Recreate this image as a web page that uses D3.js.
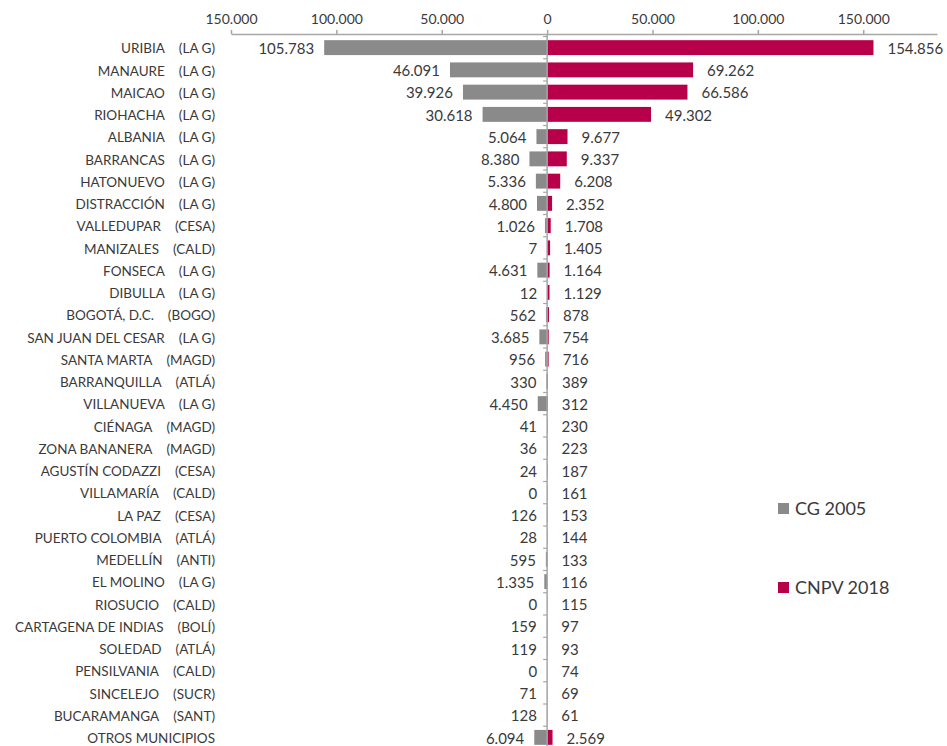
<!DOCTYPE html>
<html>
<head>
<meta charset="utf-8">
<script src="https://cdn.jsdelivr.net/npm/d3@7"></script>
<style>
  body { margin: 0; background: #fff; }
  svg { font-family: Lato, "Open Sans", sans-serif; }
</style>
</head>
<body>
<svg id="chart" width="947" height="746"></svg>
<script>
// municipios (nombre + departamento abreviado)
var municipios = ["URIBIA", "MANAURE", "MAICAO", "RIOHACHA", "ALBANIA", "BARRANCAS", "HATONUEVO",
  "DISTRACCIÓN", "VALLEDUPAR", "MANIZALES", "FONSECA", "DIBULLA", "BOGOTÁ, D.C.", "SAN JUAN DEL CESAR",
  "SANTA MARTA", "BARRANQUILLA", "VILLANUEVA", "CIÉNAGA", "ZONA BANANERA", "AGUSTÍN CODAZZI",
  "VILLAMARÍA", "LA PAZ", "PUERTO COLOMBIA", "MEDELLÍN", "EL MOLINO", "RIOSUCIO",
  "CARTAGENA DE INDIAS", "SOLEDAD", "PENSILVANIA", "SINCELEJO", "BUCARAMANGA", "OTROS MUNICIPIOS"];
var deptos = ["(LA G)", "(LA G)", "(LA G)", "(LA G)", "(LA G)", "(LA G)", "(LA G)",
  "(LA G)", "(CESA)", "(CALD)", "(LA G)", "(LA G)", "(BOGO)", "(LA G)",
  "(MAGD)", "(ATLÁ)", "(LA G)", "(MAGD)", "(MAGD)", "(CESA)",
  "(CALD)", "(CESA)", "(ATLÁ)", "(ANTI)", "(LA G)", "(CALD)",
  "(BOLÍ)", "(ATLÁ)", "(CALD)", "(SUCR)", "(SANT)", ""];
var cg2005 = [105783, 46091, 39926, 30618, 5064, 8380, 5336, 4800, 1026, 7, 4631, 12, 562, 3685,
  956, 330, 4450, 41, 36, 24, 0, 126, 28, 595, 1335, 0, 159, 119, 0, 71, 128, 6094];
var cnpv2018 = [154856, 69262, 66586, 49302, 9677, 9337, 6208, 2352, 1708, 1405, 1164, 1129, 878, 754,
  716, 389, 312, 230, 223, 187, 161, 153, 144, 133, 116, 115, 97, 93, 74, 69, 61, 2569];
var ticks = [-150000, -100000, -50000, 0, 50000, 100000, 150000];
var series = ["CG 2005", "CNPV 2018"];

var grayCol = "#8a8a8a";
var redCol = "#b8004a";
var textCol = "#3a3a3a";
var axisCol = "#a6a6a6";

var es = d3.formatLocale({ decimal: ",", thousands: ".", grouping: [3], currency: ["$", ""] });
var fmt = es.format(",d");

var svg = d3.select("#chart");

var x = d3.scaleLinear().domain([-150000, 185000]).range([231, 937]);
var y = d3.scaleBand().domain(d3.range(municipios.length))
  .range([36.5, 748.5]).paddingInner(0.33).paddingOuter(0.165);

// eje superior
var xAxis = d3.axisTop(x).tickValues(ticks).tickSizeInner(4).tickSizeOuter(0)
  .tickFormat(function(d) { return fmt(Math.abs(d)); });
var gx = svg.append("g").attr("transform", "translate(0,34)").call(xAxis);
gx.select(".domain").attr("stroke", axisCol).attr("stroke-width", 1.5);
gx.selectAll(".tick line").attr("stroke", axisCol).attr("stroke-width", 1.5);
gx.selectAll(".tick text").attr("fill", textCol).attr("font-size", 14)
  .attr("font-family", "Lato, sans-serif").attr("y", -10);

// barras
var rows = svg.append("g");
rows.selectAll("rect.g").data(cg2005).enter().append("rect")
  .attr("x", function(d) { return x(-d); })
  .attr("y", function(d, i) { return y(i); })
  .attr("width", function(d) { return x(0) - x(-d); })
  .attr("height", y.bandwidth())
  .attr("fill", grayCol);
rows.selectAll("rect.r").data(cnpv2018).enter().append("rect")
  .attr("x", x(0))
  .attr("y", function(d, i) { return y(i); })
  .attr("width", function(d) { return x(d) - x(0); })
  .attr("height", y.bandwidth())
  .attr("fill", redCol);

// eje vertical en cero
var gy = svg.append("g");
gy.append("line").attr("x1", x(0)).attr("x2", x(0)).attr("y1", 34).attr("y2", 748.5)
  .attr("stroke", axisCol).attr("stroke-width", 1.5);
gy.selectAll("line.t").data(d3.range(municipios.length + 1)).enter().append("line")
  .attr("x1", x(0) - 4).attr("x2", x(0))
  .attr("y1", function(i) { return 36.5 + i * y.step(); })
  .attr("y2", function(i) { return 36.5 + i * y.step(); })
  .attr("stroke", axisCol).attr("stroke-width", 1.2);

// etiquetas de valores
svg.append("g").selectAll("text").data(cg2005).enter().append("text")
  .attr("x", function(d) { return x(-d) - 10; })
  .attr("y", function(d, i) { return y(i) + y.bandwidth() / 2 + 1; })
  .attr("dy", "0.35em").attr("text-anchor", "end")
  .attr("font-size", 15).attr("fill", textCol)
  .text(function(d) { return fmt(d); });
svg.append("g").selectAll("text").data(cnpv2018).enter().append("text")
  .attr("x", function(d) { return x(d) + 14; })
  .attr("y", function(d, i) { return y(i) + y.bandwidth() / 2 + 1; })
  .attr("dy", "0.35em").attr("text-anchor", "start")
  .attr("font-size", 15).attr("fill", textCol)
  .text(function(d) { return fmt(d); });

// nombres de municipios
var labelRight = 215;
var lab = svg.append("g").attr("font-size", 13.5).attr("fill", textCol);
municipios.forEach(function(name, i) {
  var cy = y(i) + y.bandwidth() / 2 + 1;
  var dep = lab.append("text").attr("x", labelRight).attr("y", cy).attr("dy", "0.35em")
    .attr("text-anchor", "end").text(deptos[i]);
  var w = deptos[i] ? dep.node().getComputedTextLength() + 14 : 0;
  lab.append("text").attr("x", labelRight - w).attr("y", cy).attr("dy", "0.35em")
    .attr("text-anchor", "end").text(name);
});

// leyenda
var legend = svg.append("g");
var legendY = [503, 582];
legend.selectAll("rect").data(series).enter().append("rect")
  .attr("x", 778).attr("y", function(d, i) { return legendY[i]; })
  .attr("width", 11).attr("height", 11)
  .attr("fill", function(d, i) { return i == 0 ? grayCol : redCol; });
legend.selectAll("text").data(series).enter().append("text")
  .attr("x", 795).attr("y", function(d, i) { return legendY[i] + 12; })
  .attr("font-size", 18).attr("fill", textCol)
  .text(function(d) { return d; });
</script>
</body>
</html>
